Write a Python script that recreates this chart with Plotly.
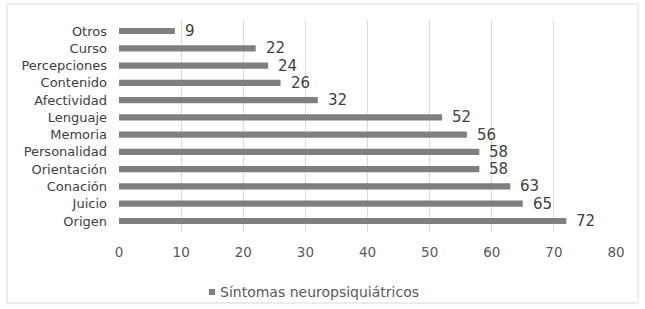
import plotly.graph_objects as go

categories = ["Otros", "Curso", "Percepciones", "Contenido", "Afectividad", "Lenguaje",
              "Memoria", "Personalidad", "Orientación", "Conación", "Juicio", "Origen"]
values = [9, 22, 24, 26, 32, 52, 56, 58, 58, 63, 65, 72]
x_ticks = [0, 10, 20, 30, 40, 50, 60, 70, 80]
series_name = "Síntomas neuropsiquiátricos"

font_family = "DejaVu Sans, Verdana, sans-serif"
bar_color = "#7f7f7f"

fig = go.Figure()
fig.add_trace(go.Bar(
    y=categories, x=values, orientation="h", name=series_name,
    marker=dict(color=bar_color, line=dict(width=0)),
    width=0.36, cliponaxis=False, showlegend=False,
))

label_annotations = [
    dict(x=v, y=c, xref="x", yref="y", text=str(v), showarrow=False,
         xanchor="left", yanchor="middle", xshift=8,
         font=dict(size=15, color="#404040", family=font_family))
    for c, v in zip(categories, values)
]

fig.update_layout(
    width=645, height=309,
    margin=dict(l=119, r=29, t=20, b=77, autoexpand=False),
    paper_bgcolor="white", plot_bgcolor="white",
    font=dict(family=font_family, color="#595959"),
    showlegend=False,
    xaxis=dict(range=[0, 80], tickvals=x_ticks, showgrid=True, gridcolor="#d9d9d9",
               gridwidth=1, zeroline=False, showline=False, ticks="",
               tickfont=dict(size=13.5, color="#595959"), ticklabelstandoff=10),
    yaxis=dict(categoryorder="array", categoryarray=categories, autorange="reversed",
               showgrid=False, zeroline=False, showline=False, ticks="",
               tickfont=dict(size=13, color="#404040"), ticklabelstandoff=11),
    bargap=0.6,
    shapes=[
        dict(type="rect", xref="paper", yref="paper", x0=-0.2254, x1=1.0443,
             y0=-0.335, y1=1.0755, line=dict(color="#d9d9d9", width=1), layer="below"),
        dict(type="rect", xref="paper", yref="paper", x0=(209 - 119) / 497, x1=(215 - 119) / 497,
             y0=(232 - 295) / 212, y1=(232 - 289) / 212, fillcolor=bar_color,
             line=dict(width=0)),
    ],
    annotations=label_annotations + [
        dict(text=series_name, xref="paper", yref="paper", x=(218 - 119) / 497,
             xanchor="left", y=(232 - 292) / 212, yanchor="middle", showarrow=False,
             font=dict(size=14, color="#595959", family=font_family)),
    ],
)

fig.write_html("out.html")
